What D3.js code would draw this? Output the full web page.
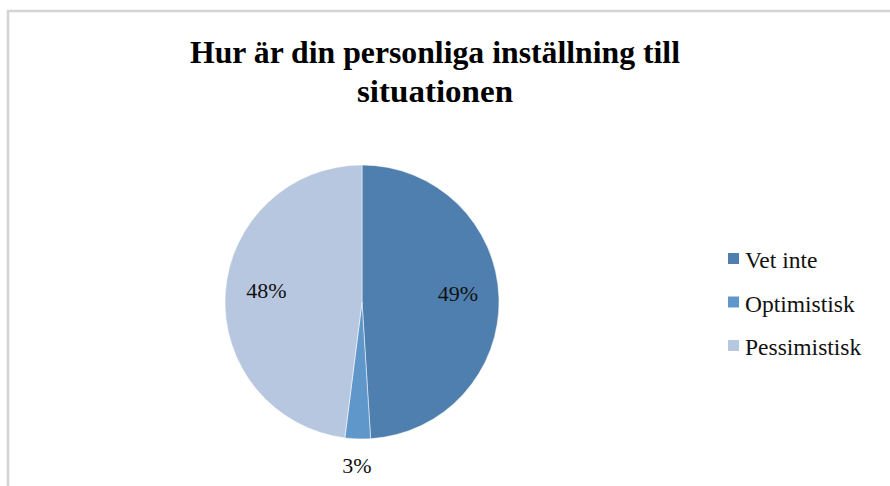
<!DOCTYPE html>
<html>
<head>
<meta charset="utf-8">
<script src="https://cdn.jsdelivr.net/npm/d3@7"></script>
<style>
  body { margin: 0; background: #fff; }
  text { font-family: "Liberation Serif", "DejaVu Serif", serif; }
</style>
</head>
<body>
<div id="chart"></div>
<script>
const width = 890,
  height = 486;

const titleLines = ["Hur är din personliga inställning till", "situationen"];
const titleWidths = [490, 156];
const categories = ["Vet inte", "Optimistisk", "Pessimistisk"];
const values = [49, 3, 48];
const colors = ["#4f7fae", "#6097cb", "#b8c7e0"];

const cx = 362,
  cy = 302,
  radius = 137;

const svg = d3
  .select("#chart")
  .append("svg")
  .attr("width", width)
  .attr("height", height);

// frame (only top and left edges visible in the crop)
svg
  .append("rect")
  .attr("x", 8)
  .attr("y", 11)
  .attr("width", width + 20)
  .attr("height", height + 20)
  .style("fill", "none")
  .style("stroke", "#d4d4d4")
  .style("stroke-width", 2.5);

svg
  .append("g")
  .selectAll("text")
  .data(titleLines)
  .enter()
  .append("text")
  .attr("x", 435)
  .attr("y", (d, i) => 63 + i * 39)
  .attr("text-anchor", "middle")
  .attr("textLength", (d, i) => titleWidths[i])
  .attr("lengthAdjust", "spacingAndGlyphs")
  .style("font-size", "31px")
  .style("font-weight", "bold")
  .style("fill", "#000")
  .text((d) => d);

const pie = d3.pie().sort(null).value((d) => d);
const arc = d3.arc().innerRadius(0).outerRadius(radius);
const arcs = pie(values);

const pieG = svg.append("g").attr("transform", "translate(" + cx + "," + cy + ")");

pieG
  .selectAll("path")
  .data(arcs)
  .enter()
  .append("path")
  .attr("d", arc)
  .style("fill", (d, i) => colors[i])
  .style("stroke", "#fff")
  .style("stroke-width", 0.5);

const total = d3.sum(values);
const labelArc = d3.arc().innerRadius(radius * 0.7).outerRadius(radius * 0.7);
const outerArc = d3.arc().innerRadius(radius * 1.19).outerRadius(radius * 1.19);

pieG
  .selectAll(".label")
  .data(arcs)
  .enter()
  .append("text")
  .attr("class", "label")
  .attr("transform", (d) => {
    const small = d.data / total < 0.05;
    const p = small ? outerArc.centroid(d) : labelArc.centroid(d);
    return "translate(" + p[0] + "," + (p[1] - (small ? 0 : 6)) + ")";
  })
  .attr("text-anchor", "middle")
  .attr("dy", "0.35em")
  .style("font-size", "22px")
  .style("fill", "#111")
  .text((d) => Math.round((d.data / total) * 100) + "%");

const legend = svg
  .append("g")
  .selectAll("g")
  .data(categories)
  .enter()
  .append("g")
  .attr("transform", (d, i) => "translate(728," + (268 + i * 43.5) + ")");

legend
  .append("rect")
  .attr("x", 0)
  .attr("y", -15)
  .attr("width", 11)
  .attr("height", 11)
  .style("fill", (d, i) => colors[i]);

legend
  .append("text")
  .attr("x", 17)
  .style("font-size", "23.5px")
  .style("fill", "#111")
  .text((d) => d);
</script>
</body>
</html>
